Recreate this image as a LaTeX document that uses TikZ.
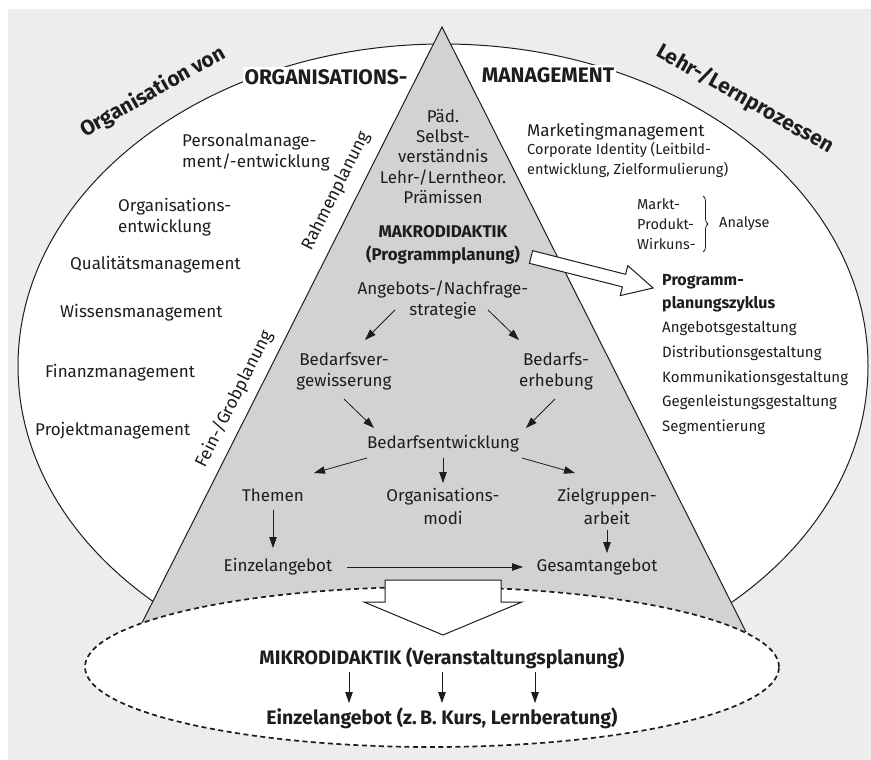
\documentclass[tikz,border=0pt]{standalone}
\usepackage{fontspec}
\setmainfont{Fira Sans}
\usetikzlibrary{arrows.meta,decorations.pathreplacing}
\definecolor{bggray}{RGB}{237,237,237}
\definecolor{trigray}{RGB}{209,210,212}
\definecolor{ink}{RGB}{30,28,28}
\begin{document}
\begin{tikzpicture}[x=1pt,y=-1pt,
  every node/.style={inner sep=0pt, text=ink},
  body/.style={font=\fontsize{17}{21}\selectfont, align=center},
  bodyb/.style={font=\fontsize{17}{23}\selectfont\bfseries, align=center},
  small/.style={font=\fontsize{14.5}{20}\selectfont, align=left, anchor=west},
  listtxt/.style={font=\fontsize{15}{24.75}\selectfont, align=left, anchor=west},
  leftcol/.style={font=\fontsize{17}{21}\selectfont, align=left, anchor=west},
  bigb/.style={font=\fontsize{21}{25}\selectfont\bfseries},
  microb/.style={font=\fontsize{19.5}{23}\selectfont\bfseries},
  edgelbl/.style={font=\fontsize{17.5}{21}\selectfont, rotate=63.3},
  knock/.style={fill=white, inner sep=2pt},
  arr/.style={draw=ink, line width=0.8pt, -{Triangle[length=11pt,width=7.5pt]}},
  hollow/.style={draw=ink, line width=1pt, fill=white, line join=miter},
  outline/.style={draw=ink, line width=1pt}
]
\useasboundingbox (0,0) rectangle (871,760);
% background
\fill[bggray] (8,9) rectangle (871,760);
% big ellipse
\path[outline, fill=white] (443,366) ellipse [x radius=425pt, y radius=322pt];
% triangle
\fill[trigray] (442,27) -- (746,632) -- (142,623) -- cycle;
\draw[outline, line join=miter] (142,623) -- (442,27) -- (746,632);
% dashed ellipse
\fill[white] (432,667) ellipse [x radius=347pt, y radius=80pt];
\draw[draw=ink, line width=1.7pt, dash pattern=on 5pt off 3.5pt] (432,667) ellipse [x radius=347pt, y radius=80pt];

% hollow arrows
\draw[hollow] (385,580) -- (501,580) -- (501,602) -- (522,602) -- (443,635) -- (364,602) -- (385,602) -- cycle;
\draw[hollow] (532.6,250.7) -- (625.6,274.3) -- (627.8,265.6) -- (653.1,288) -- (620.2,295.6) -- (622.4,286.9) -- (529.4,263.3) -- cycle;

% top labels
\node[bigb, knock] (orgL) at (326,77) {ORGANISATIONS-};
\node[bigb, knock] (manL) at (548,75) {MANAGEMENT};
\node[bigb, rotate=29.5] (orgvon) at (153,92) {Organisation von};
\node[bigb, rotate=-29.5] (lehr) at (745,99) {Lehr-/Lernprozessen};

% edge labels
\node[edgelbl] (rahmen) at (336,191) {Rahmenplanung};
\node[edgelbl] (fein) at (234,399) {Fein-/Grobplanung};

% left column
\node[leftcol] (pers) at (182,152.5) {Personalmanage-\\ment/-entwicklung};
\node[leftcol] (orgent) at (118,217) {Organisations-\\entwicklung};
\node[leftcol] (qual) at (70,265) {Qualitätsmanagement};
\node[leftcol] (wiss) at (60,313) {Wissensmanagement};
\node[leftcol] (fin) at (45,373) {Finanzmanagement};
\node[leftcol] (proj) at (35,431) {Projektmanagement};

% right column
\node[leftcol] (mark) at (527,132) {Marketingmanagement};
\node[small] (corp) at (527,160) {Corporate Identity (Leitbild-\\entwicklung, Zielformulierung)};
\node[small] (mpw) at (637,224) {Markt-\\Produkt-\\Wirkuns-};
\node[small] (anal) at (719,224) {Analyse};
\coordinate (br1) at (703,196);
\coordinate (br2) at (703,252);
\draw[draw=ink, line width=0.8pt, decorate, decoration={brace, amplitude=5pt}] (br1) -- (br2);
\node[font=\fontsize{16}{23}\selectfont\bfseries, align=left, anchor=west] (ppz) at (662,293.5) {Programm-\\planungszyklus};
\node[listtxt] (list) at (662,378) {Angebotsgestaltung\\Distributionsgestaltung\\Kommunikationsgestaltung\\Gegenleistungsgestaltung\\Segmentierung};

% triangle content
\node[body, font=\fontsize{17}{20.25}\selectfont] (paed) at (443,156.5) {Päd.\\Selbst-\\verständnis\\Lehr-/Lerntheor.\\Prämissen};
\node[bodyb] (makro) at (443,244.5) {MAKRODIDAKTIK\\(Programmplanung)};
\node[body] (angeb) at (443,289) {Angebots-/Nachfrage-};
\node[body] (strat) at (443,311) {strategie};
\node[body] (bver) at (344,371) {Bedarfsver-\\gewisserung};
\node[body] (berh) at (556,371) {Bedarfs-\\erhebung};
\node[body] (bent) at (443,444) {Bedarfsentwicklung};
\node[body] (them) at (273,495) {Themen};
\node[body, font=\fontsize{17}{23}\selectfont] (orgm) at (443,506.5) {Organisations-\\modi};
\node[body, font=\fontsize{17}{23}\selectfont] (ziel) at (607,506.5) {Zielgruppen-\\arbeit};
\node[body] (einz) at (278,567) {Einzelangebot};
\node[body] (gesa) at (597,567) {Gesamtangebot};

% bottom
\node[microb] (mikro) at (442,658) {MIKRODIDAKTIK (Veranstaltungsplanung)};
\node[microb] (einzb) at (442,718) {Einzelangebot (z.\,B. Kurs, Lernberatung)};

% arrows
\draw[arr] ([shift={(-48,-1)}]strat.center) -- ([shift={(21,-31)}]bver.center);
\draw[arr] ([shift={(45,-1)}]strat.center) -- ([shift={(-37,-31)}]berh.center);
\draw[arr] ([shift={(0,28)}]bver.center) -- ([shift={(-69,-16)}]bent.center);
\draw[arr] ([shift={(-1,28)}]berh.center) -- ([shift={(83,-16)}]bent.center);
\draw[arr] ([shift={(-76,14)}]bent.center) -- ([shift={(41,-22)}]them.center);
\draw[arr] ([shift={(0,14)}]bent.center) -- ([shift={(0,-23.5)}]orgm.center);
\draw[arr] ([shift={(79,14)}]bent.center) -- ([shift={(-32,-33.5)}]ziel.center);
\draw[arr] ([shift={(0,15)}]them.center) -- ([shift={(-5,-19)}]einz.center);
\draw[arr] ([shift={(69,0)}]einz.center) -- ([shift={(-74,0)}]gesa.center);
\draw[arr] ([shift={(0,23.5)}]ziel.center) -- ([shift={(10,-14)}]gesa.center);
\draw[arr] ([shift={(-93,14)}]mikro.center) -- ([shift={(-93,-15)}]einzb.center);
\draw[arr] ([shift={(0,14)}]mikro.center) -- ([shift={(0,-15)}]einzb.center);
\draw[arr] ([shift={(93,14)}]mikro.center) -- ([shift={(93,-15)}]einzb.center);
\end{tikzpicture}
\end{document}
